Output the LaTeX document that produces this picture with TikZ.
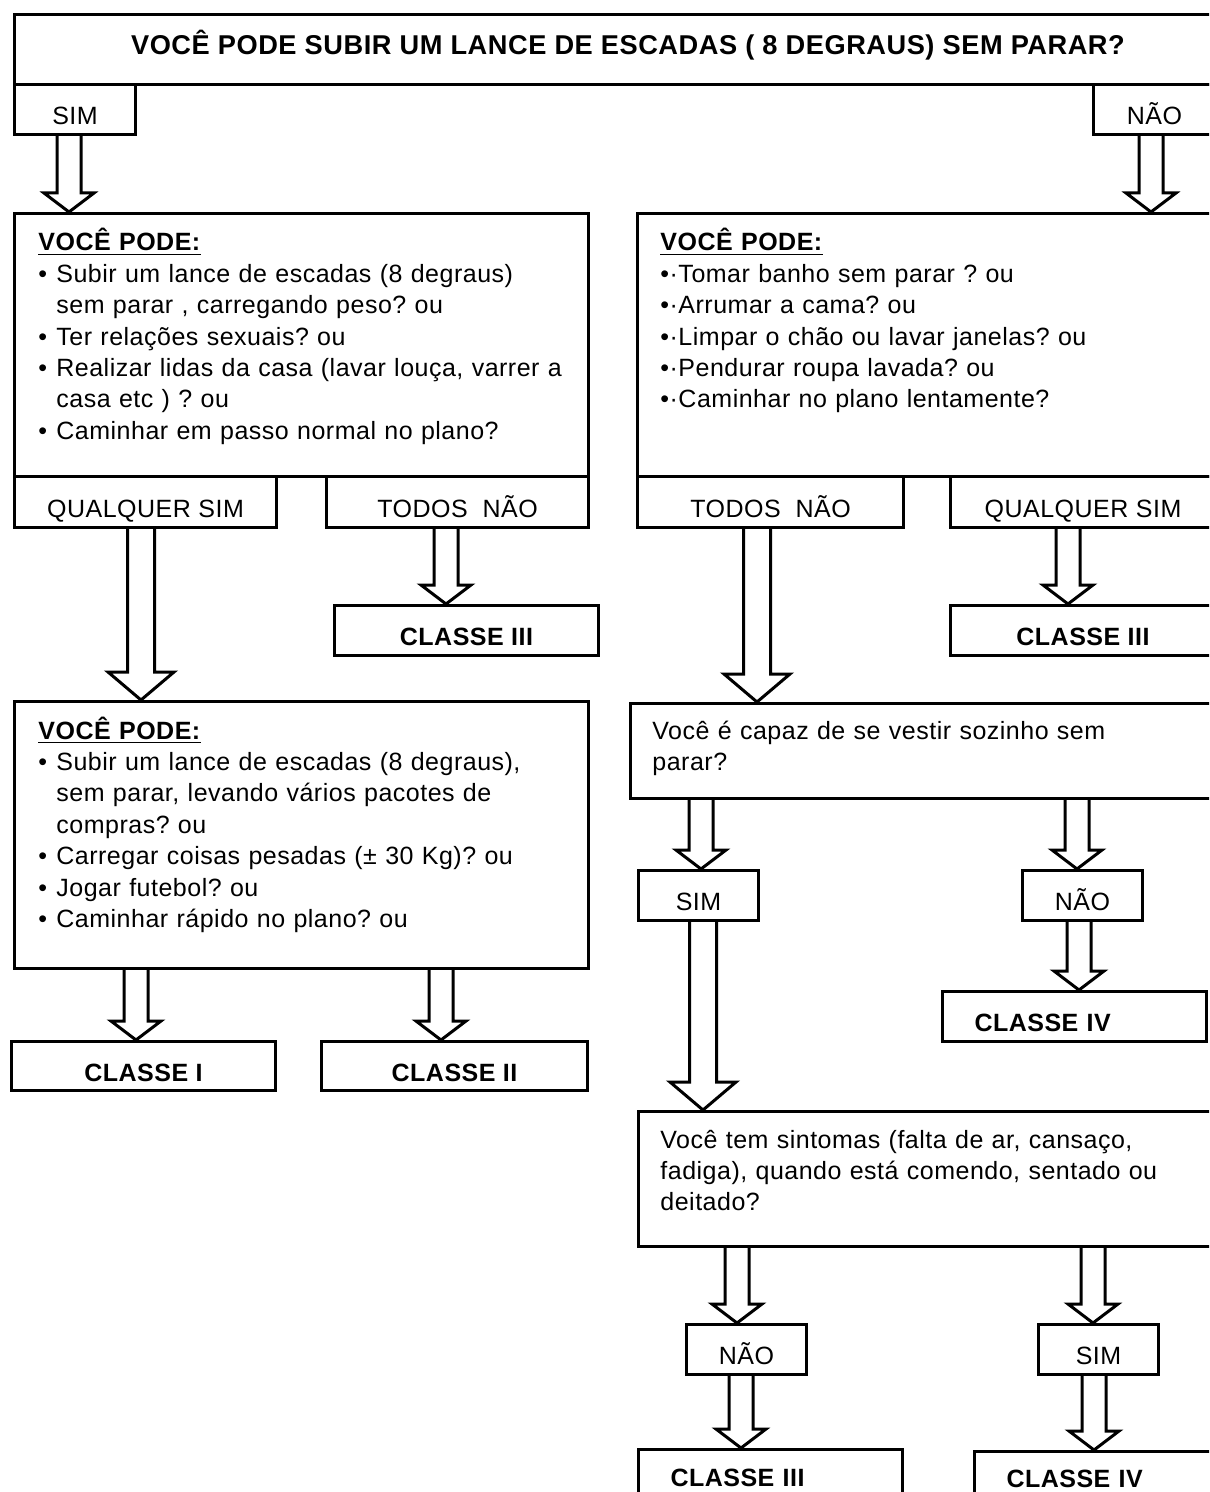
\documentclass[tikz,border=0pt]{standalone}
\usepackage{fontspec}
\setmainfont[LetterSpace=2]{Liberation Sans}
\usetikzlibrary{calc,positioning}
\frenchspacing

\newcommand{\bul}{\makebox[9pt][l]{•}}
\newcommand{\cont}{\hspace*{9pt}}

% hollow block arrow: half shaft, half head, head length, column x, from node, to node
\newcommand{\hollowarrow}[6]{%
  \draw[blockarrow] let \p1=(#4,0), \p2=(#5.south), \p3=(#6.north) in
    (\x1-#1,\y2) -- (\x1-#1,\y3+#3) -- (\x1-#2,\y3+#3) -- (\x1,\y3)
    -- (\x1+#2,\y3+#3) -- (\x1+#1,\y3+#3) -- (\x1+#1,\y2);}
\newcommand{\shortarrow}[3]{\hollowarrow{6pt}{12.5pt}{9.5pt}{#1}{#2}{#3}}
\newcommand{\longarrow}[3]{\hollowarrow{6.75pt}{16.5pt}{14pt}{#1}{#2}{#3}}

\tikzset{
  box/.style={rectangle, draw=black, line width=1.5pt, inner sep=0pt, anchor=north west},
  tagbox/.style={box, font=\fontsize{12.5}{15}\selectfont, text height=15pt, text depth=0pt},
  classbox/.style={tagbox, font=\fontsize{12.5}{15}\selectfont\bfseries},
  classleft/.style={classbox, text width=100pt, inner xsep=16pt, align=left},
  bodytext/.style={anchor=base west, inner sep=0pt, align=left,
    font=\fontsize{12.5}{15.7}\selectfont},
  blockarrow/.style={draw=black, line width=1.5pt},
}

\begin{document}
\begin{tikzpicture}[x=0.5pt, y=-0.5pt]
  \clip (0,0) rectangle (1209,1492);

  % question
  \node[box, minimum width=613.5pt, minimum height=35pt,
    font=\fontsize{13.6}{15}\selectfont\bfseries, text height=9pt, text depth=3.7pt]
    (top) at (13,13) {VOCÊ PODE SUBIR UM LANCE DE ESCADAS ( 8 DEGRAUS) SEM PARAR?};
  \node[tagbox, minimum width=60.5pt, minimum height=25pt] (simA) at (13,83) {SIM};
  \node[tagbox, minimum width=61pt, minimum height=25pt] (naoA) at (1092,83) {NÃO};

  % first level
  \node[box, minimum width=287pt, minimum height=131.5pt] (qA) at (13,212) {};
  \node[bodytext, text width=275pt] (qAtext) at (38,251) {\underline{\textbf{VOCÊ PODE:}}\\
    \bul Subir um lance de escadas (8 degraus)\\
    \cont sem parar , carregando peso? ou\\
    \bul Ter relações sexuais? ou\\
    \bul Realizar lidas da casa (lavar louça, varrer a\\
    \cont casa etc ) ? ou\\
    \bul Caminhar em passo normal no plano?};
  \node[box, minimum width=302pt, minimum height=131.5pt] (qB) at (636,212) {};
  \node[bodytext, text width=275pt] (qBtext) at (660,251) {\underline{\textbf{VOCÊ PODE:}}\\
    •·Tomar banho sem parar ? ou\\
    •·Arrumar a cama? ou\\
    •·Limpar o chão ou lavar janelas? ou\\
    •·Pendurar roupa lavada? ou\\
    •·Caminhar no plano lentamente?};

  \node[tagbox, minimum width=131pt, minimum height=25.5pt] (qsL) at (13,475) {QUALQUER SIM};
  \node[tagbox, minimum width=131pt, minimum height=25.5pt] (tnL) at (325,475) {TODOS~~NÃO};
  \node[tagbox, minimum width=133pt, minimum height=25.5pt] (tnR) at (636,475) {TODOS~~NÃO};
  \node[tagbox, minimum width=132.5pt, minimum height=25.5pt] (qsR) at (949,475) {QUALQUER SIM};

  \node[classbox, minimum width=132pt, minimum height=25pt] (c3L) at (333,604) {CLASSE III};
  \node[classbox, minimum width=132.5pt, minimum height=25pt] (c3R) at (949,604) {CLASSE III};

  % second level, left
  \node[box, minimum width=287pt, minimum height=133.5pt] (qC) at (13,700) {};
  \node[bodytext, text width=275pt] (qCtext) at (38,739) {\underline{\textbf{VOCÊ PODE:}}\\
    \bul Subir um lance de escadas (8 degraus),\\
    \cont sem parar, levando vários pacotes de\\
    \cont compras? ou\\
    \bul Carregar coisas pesadas (± 30 Kg)? ou\\
    \bul Jogar futebol? ou\\
    \bul Caminhar rápido no plano? ou};
  \node[classbox, minimum width=132pt, minimum height=24.5pt] (c1) at (10,1040) {CLASSE I};
  \node[classbox, minimum width=133pt, minimum height=24.5pt] (c2) at (320,1040) {CLASSE II};

  % second level, right
  \node[box, minimum width=305.5pt, minimum height=47.5pt] (qD) at (629,702) {};
  \node[bodytext, text width=280pt] (qDtext) at (652,739)
    {Você é capaz de se vestir sozinho sem\\parar?};
  \node[tagbox, minimum width=60pt, minimum height=25pt] (simB) at (637,869) {SIM};
  \node[tagbox, minimum width=60pt, minimum height=25pt] (naoB) at (1021,869) {NÃO};
  \node[classleft, minimum height=25pt] (c4) at (941,990) {CLASSE IV};

  % third level
  \node[box, minimum width=301.5pt, minimum height=67.5pt] (qE) at (637,1110) {};
  \node[bodytext, text width=280pt] (qEtext) at (660,1148)
    {Você tem sintomas (falta de ar, cansaço,\\fadiga), quando está comendo, sentado ou\\deitado?};
  \node[tagbox, minimum width=60pt, minimum height=25pt] (naoC) at (685,1323) {NÃO};
  \node[tagbox, minimum width=60pt, minimum height=25pt] (simC) at (1037,1323) {SIM};
  \node[classleft, minimum height=25pt, text height=12pt] (c3B) at (637,1448) {CLASSE III};
  \node[classleft, minimum height=25pt, text height=11pt] (c4B) at (973,1450) {CLASSE IV};

  % arrows
  \shortarrow{69}{simA}{qA}
  \shortarrow{1151}{naoA}{qB}
  \longarrow{141}{qsL}{qC}
  \shortarrow{446}{tnL}{c3L}
  \longarrow{757}{tnR}{qD}
  \shortarrow{1068}{qsR}{c3R}
  \shortarrow{136}{qC}{c1}
  \shortarrow{441}{qC}{c2}
  \shortarrow{701}{qD}{simB}
  \shortarrow{1077}{qD}{naoB}
  \longarrow{703}{simB}{qE}
  \shortarrow{1079}{naoB}{c4}
  \shortarrow{737}{qE}{naoC}
  \shortarrow{1093}{qE}{simC}
  \shortarrow{741}{naoC}{c3B}
  \shortarrow{1094}{simC}{c4B}
\end{tikzpicture}
\end{document}
